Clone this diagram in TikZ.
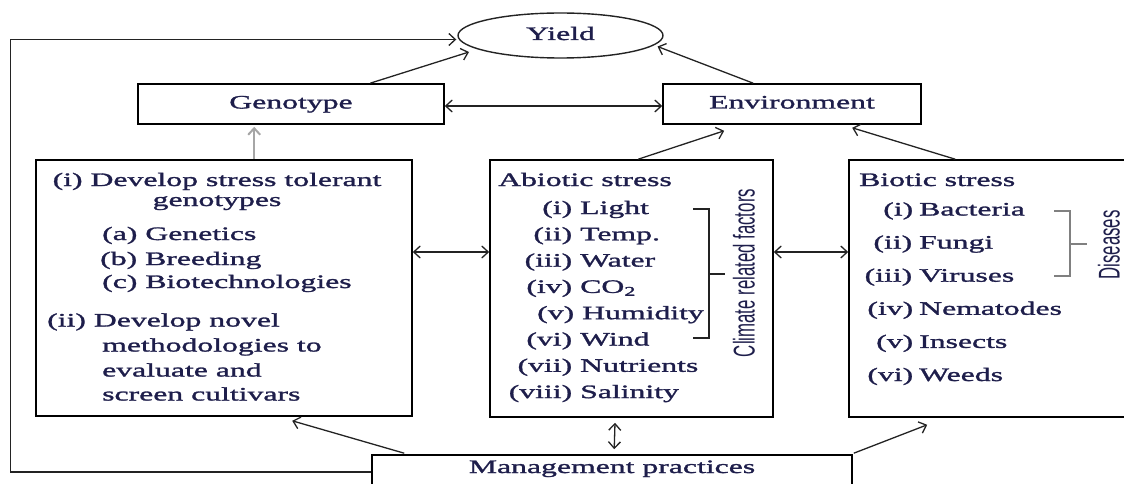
\documentclass[tikz,border=0pt]{standalone}
\usepackage{fontspec}
\setmainfont{Liberation Serif}[FakeStretch=1.67,FakeBold=1.5]
\newfontfamily\narrowsans{Liberation Sans}[FakeStretch=0.56]
\usetikzlibrary{arrows.meta,calc,shapes.geometric}
\definecolor{txt}{RGB}{30,30,75}
\definecolor{ln}{RGB}{35,35,35}
\begin{document}
\begin{tikzpicture}[x=1pt,y=-1pt,
  font=\fontsize{19}{23}\selectfont, text=txt,
  box/.style={draw=black, line width=1.6pt, rectangle, inner sep=0pt, text height=13pt, text depth=4pt},
  arr/.style={draw=ln, line width=1.3pt, -{Straight Barb[length=6.5pt,width=12pt]}},
  darr/.style={draw=ln, line width=1.3pt, {Straight Barb[length=6.5pt,width=12pt]}-{Straight Barb[length=6.5pt,width=12pt]}},
  lt/.style={anchor=base west, inner sep=0pt},
  ct/.style={anchor=base, inner sep=0pt},
  brk/.style={draw=ln, line width=1.2pt},
  vt/.style={rotate=90, inner sep=0pt, font=\narrowsans\fontsize{30}{30}\selectfont}
]
\useasboundingbox (0,0) rectangle (1124,484);
\clip (0,0) rectangle (1124,484);

% main nodes
\node[ellipse, draw=ln, line width=1.4pt, minimum width=205pt, minimum height=45pt, inner sep=0pt, text height=13pt, text depth=4pt] (yield) at (560.5,35.5) {Yield};
\node[box, minimum width=306pt, minimum height=40pt] (geno) at (291,104) {Genotype};
\node[box, minimum width=258pt, minimum height=40pt] (env) at (792,104) {Environment};
\node[box, minimum width=376pt, minimum height=256pt] (lbox) at (224,288) {};
\node[box, minimum width=283pt, minimum height=257pt] (abio) at (631.5,288.5) {};
\node[box, minimum width=291pt, minimum height=257pt] (bio) at (994.5,288.5) {};
\node[box, minimum width=480pt, minimum height=45pt, text depth=22pt] (mgmt) at (612,477.5) {Management practices};

% left box text
\node[ct] (g1) at (217,186) {(i) Develop stress tolerant};
\node[ct] (g2) at (217,206) {genotypes};
\node[lt] (g3) at (102,240) {(a) Genetics};
\node[lt] (g4) at (100,265) {(b) Breeding};
\node[lt] (g5) at (102,288) {(c) Biotechnologies};
\node[lt] (g6) at (47,326.5) {(ii) Develop novel};
\node[lt] (g7) at (102,351.5) {methodologies to};
\node[lt] (g8) at (102,376.5) {evaluate and};
\node[lt] (g9) at (102,400.5) {screen cultivars};

% abiotic text
\node[lt] (a0) at (498,186) {Abiotic stress};
\node[lt] (a1) at (580,214) {\llap{(i)\hspace{8pt}}Light};
\node[lt] (a2) at (580,240.3) {\llap{(ii)\hspace{8pt}}Temp.};
\node[lt] (a3) at (580,266.6) {\llap{(iii)\hspace{8pt}}Water};
\node[lt] (a4) at (580,292.9) {\llap{(iv)\hspace{8pt}}CO\textsubscript{2}};
\node[lt] (a5) at (582,319.2) {\llap{(v)\hspace{8pt}}Humidity};
\node[lt] (a6) at (580,345.5) {\llap{(vi)\hspace{8pt}}Wind};
\node[lt] (a7) at (580,371.8) {\llap{(vii)\hspace{8pt}}Nutrients};
\node[lt] (a8) at (580,398.1) {\llap{(viii)\hspace{8pt}}Salinity};
\node[vt] (clim) at (744,273) {Climate related factors};

% biotic text
\node[lt] (b0) at (859,186) {Biotic stress};
\node[lt] (b1) at (919,215.5) {\llap{(i)\hspace{6pt}}Bacteria};
\node[lt] (b2) at (919,248.6) {\llap{(ii)\hspace{7pt}}Fungi};
\node[lt] (b3) at (919,281.7) {\llap{(iii)\hspace{7pt}}Viruses};
\node[lt] (b4) at (919,314.8) {\llap{(iv)\hspace{6pt}}Nematodes};
\node[lt] (b5) at (919,347.9) {\llap{(v)\hspace{6pt}}Insects};
\node[lt] (b6) at (919,381) {\llap{(vi)\hspace{6pt}}Weeds};
\node[vt] (dis) at (1109,245) {Diseases};

% brackets
\draw[brk] (693,209) -- (709,209) -- (709,338) -- (693,338);
\draw[brk] (709,274) -- (725,274);
\draw[brk, draw=gray] (1054,211) -- (1070,211) -- (1070,276) -- (1054,276);
\draw[brk, draw=gray] (1070,244) -- (1087,244);

% connectors
\coordinate (fbc) at (10.5,472);
\draw[arr] (fbc -| mgmt.west) -- (fbc) |- ($(yield.west)+(-1,4)$);
\draw[arr] ($(geno.north west)+(233,0)$) -- ($(yield.center)+(-91.5,16.5)$);
\draw[arr] ($(env.north west)+(91,0)$) -- ($(yield.center)+(97,11)$);
\draw[darr] ($(geno.east)+(0,2)$) -- ($(env.west)+(0,2)$);
\draw[arr, draw=gray!70, line width=2pt] ($(lbox.north west)+(219,0)$) -- ($(geno.south west)+(117,2)$);
\draw[arr] ($(abio.north west)+(149,0)$) -- ($(env.south west)+(62,6)$);
\draw[arr] ($(bio.north west)+(107,0)$) -- ($(env.south west)+(190,3)$);
\draw[darr] ($(lbox.east)+(0,-36)$) -- ($(abio.west)+(0,-36.5)$);
\draw[darr] ($(abio.east)+(0,-36.5)$) -- ($(bio.west)+(0,-36.5)$);
\draw[darr] ($(abio.south)+(-16.5,5)$) -- ($(mgmt.north west)+(243,-5)$);
\draw[arr] ($(mgmt.north west)+(33,-1)$) -- ($(lbox.south west)+(257,4)$);
\draw[arr] ($(mgmt.north east)+(1,-1)$) -- ($(bio.south west)+(79,7)$);
\end{tikzpicture}
\end{document}
